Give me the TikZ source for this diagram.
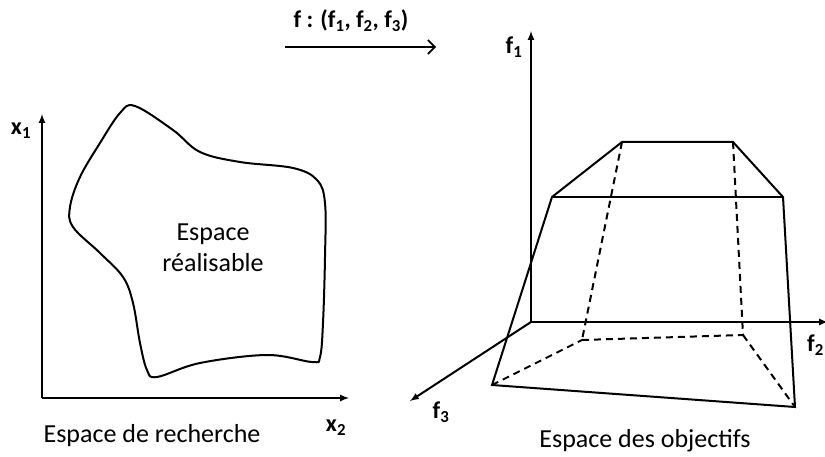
\documentclass[tikz,border=0pt]{standalone}
\usepackage{fontspec}
\setmainfont{Carlito}
\usetikzlibrary{arrows,arrows.meta}
\tikzstyle{axis} = [draw, line width=2pt, -latex]
\tikzstyle{edge} = [draw, line width=2pt]
\tikzstyle{hidden} = [draw, line width=2pt, dash pattern=on 7pt off 5pt]
\tikzstyle{lbl} = [font=\fontsize{26}{31}\selectfont]
\tikzstyle{var} = [font=\bfseries\fontsize{24}{28}\selectfont]

\begin{document}
\begin{tikzpicture}[x=1pt,y=-1pt]
      \useasboundingbox (0,0) rectangle (825,457);

      % search space axes
      \coordinate (o1) at (42,398);
      \coordinate (x1) at (42,114);
      \coordinate (x2) at (349,398);
      \draw[axis] (o1) -- (x1);
      \draw[axis] (o1) -- (x2);
      \node[var] (lx1) at (21,131) {x\textsubscript{1}};
      \node[var] (lx2) at (336,428) {x\textsubscript{2}};
      \node[lbl] (t1) at (152,436) {Espace de recherche};

      % feasible region
      \draw[edge, smooth cycle, tension=0.6] plot coordinates {
        (135,106) (173,130) (200,152) (240,162) (293,168) (317,180) (325,203)
        (325,257) (323,323) (320,357) (312,362) (267,355) (200,363) (157,377)
        (147,370) (140,343) (133,303) (123,277) (100,253) (73,227) (70,207)
        (80,177) (100,143) (120,113)};
      \node[lbl, align=center] (real) at (213,248) {Espace\\réalisable};

      % mapping arrow
      \coordinate (m1) at (285,47);
      \coordinate (m2) at (436,47);
      \draw[line width=1.6pt, -{Straight Barb[length=7pt,width=14pt]}] (m1) -- (m2);
      \node[var] (map) at (351,21) {f : (f\textsubscript{1}, f\textsubscript{2}, f\textsubscript{3})};

      % objective space axes
      \coordinate (o2) at (531,322);
      \coordinate (f1) at (531,31);
      \coordinate (f2) at (828,322);
      \coordinate (f3) at (410,401);
      \draw[axis] (o2) -- (f1);
      \draw[axis] (o2) -- (f2);
      \draw[axis] (o2) -- (f3);
      \node[var] (lf1) at (514,47) {f\textsubscript{1}};
      \node[var, anchor=east, inner sep=1pt] (lf2) at (825,345) {f\textsubscript{2}};
      \node[var] (lf3) at (441,412) {f\textsubscript{3}};

      % image polyhedron
      \coordinate (A) at (552,197);
      \coordinate (B) at (783,197);
      \coordinate (C) at (622,142);
      \coordinate (D) at (733,142);
      \coordinate (E) at (492,385);
      \coordinate (F) at (795,407);
      \coordinate (G) at (582,340);
      \coordinate (H) at (743,335);
      \draw[edge] (E) -- (A) -- (C) -- (D) -- (B) -- (F) -- cycle;
      \draw[edge] (A) -- (B);
      \foreach \p/\q in {C/G, D/H, G/H, E/G, H/F}
        \draw[hidden] (\p) -- (\q);
      \node[lbl] (t2) at (645,441) {Espace des objectifs};
\end{tikzpicture}
\end{document}
